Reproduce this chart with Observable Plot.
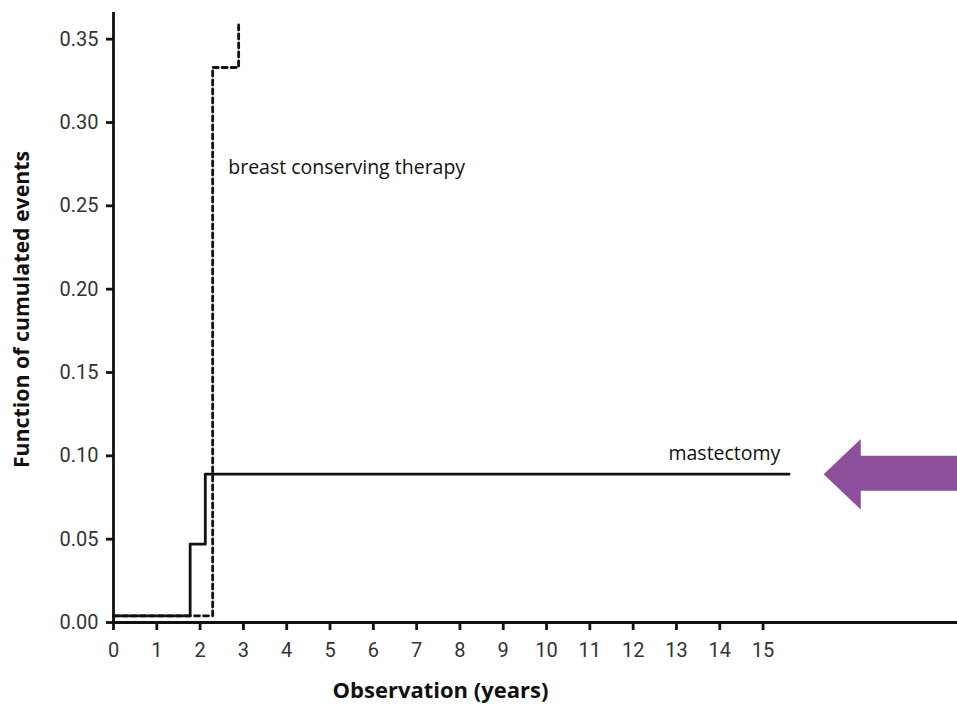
<!DOCTYPE html>
<html><head><meta charset="utf-8">
<script src="https://cdn.jsdelivr.net/npm/d3@7"></script>
<script src="https://cdn.jsdelivr.net/npm/@observablehq/plot@0.6"></script>
<style>
body{margin:0;background:#fff}
#chart svg{display:block}
</style>
</head><body><div id="chart"></div>
<script>
// ---- data ----
const xTicks = [0,1,2,3,4,5,6,7,8,9,10,11,12,13,14,15];
const yTicks = [0,0.05,0.10,0.15,0.20,0.25,0.30,0.35];
const mastectomyTime  = [0, 1.77, 2.12, 15.6];
const mastectomyValue = [0.004, 0.047, 0.089, 0.089];
const bctTime  = [0, 2.29, 2.89];
const bctValue = [0.004, 0.333, 0.359];
const seriesNames = ["mastectomy", "breast conserving therapy"];
const labelTime  = [15.4, 2.65];
const labelValue = [0.101, 0.273];
const arrowTime  = [16.4];
const arrowValue = [0.089];
const xTitle = "Observation (years)";
const yTitle = "Function of cumulated events";

// ---- tables ----
const mast = mastectomyTime.map((t, i) => ({t, v: mastectomyValue[i]}));
const bct = bctTime.map((t, i) => ({t, v: bctValue[i]}));
const labels = seriesNames.map((s, i) => ({s, t: labelTime[i], v: labelValue[i]}));
const arrows = arrowTime.map((t, i) => ({t, v: arrowValue[i]}));

// left-pointing block arrow glyph, scaled by r
const leftArrow = {
  draw(ctx, size) {
    const r = Math.sqrt(size / Math.PI);
    const hl = r * 1.03, hh = r * 0.98, st = r * 0.51, sb = r * 0.46, len = r * 4;
    ctx.moveTo(0, 0);
    ctx.lineTo(hl, -hh);
    ctx.lineTo(hl, -st);
    ctx.lineTo(len, -st);
    ctx.lineTo(len, sb);
    ctx.lineTo(hl, sb);
    ctx.lineTo(hl, hh);
    ctx.closePath();
  }
};

const ink = "#111";
const sw = 2.8;
const plot = Plot.plot({
  width: 957, height: 705,
  marginLeft: 113, marginRight: 0, marginTop: 12, marginBottom: 83,
  x: {domain: [0, 19.49]},
  y: {domain: [0, 0.366]},
  style: {fontFamily: "Roboto, sans-serif", fontSize: "20px", background: "#fff", color: "#333"},
  marks: [
    Plot.axisX({ticks: xTicks, tickSize: 8, tickPadding: 12, tickFormat: d => String(d), label: null, stroke: ink, strokeWidth: sw, fill: "#333"}),
    Plot.axisY({ticks: yTicks, tickSize: 7, tickPadding: 8, tickFormat: d3.format(".2f"), label: null, stroke: ink, strokeWidth: sw, fill: "#333"}),
    Plot.ruleY([0], {stroke: ink, strokeWidth: sw}),
    Plot.ruleX([0], {stroke: ink, strokeWidth: sw}),
    Plot.line(bct, {x: "t", y: "v", curve: "step-after", stroke: ink, strokeWidth: sw, strokeDasharray: "5,4"}),
    Plot.line(mast, {x: "t", y: "v", curve: "step-after", stroke: ink, strokeWidth: sw}),
    Plot.text(labels.filter(d => d.s === "mastectomy"), {x: "t", y: "v", text: "s", textAnchor: "end",
      fontFamily: "Open Sans, sans-serif", fontSize: 19.5, fill: "#111"}),
    Plot.text(labels.filter(d => d.s !== "mastectomy"), {x: "t", y: "v", text: "s", textAnchor: "start",
      fontFamily: "Open Sans, sans-serif", fontSize: 19.5, fill: "#111"}),
    Plot.dot(arrows, {x: "t", y: "v", symbol: leftArrow, r: 36, fill: "#8c4f9c", stroke: "none"}),
    Plot.text([xTitle], {frameAnchor: "bottom", textAnchor: "middle", lineAnchor: "middle", dx: -95, dy: 68,
      fontFamily: "Open Sans, sans-serif", fontWeight: "bold", fontSize: 22, fill: "#111"}),
    Plot.text([yTitle], {frameAnchor: "left", textAnchor: "middle", lineAnchor: "middle", rotate: -90, dx: -91, dy: -8,
      fontFamily: "Open Sans, sans-serif", fontWeight: "bold", fontSize: 21.3, fill: "#111"})
  ]
});
document.getElementById("chart").append(plot);
</script>
</body></html>
